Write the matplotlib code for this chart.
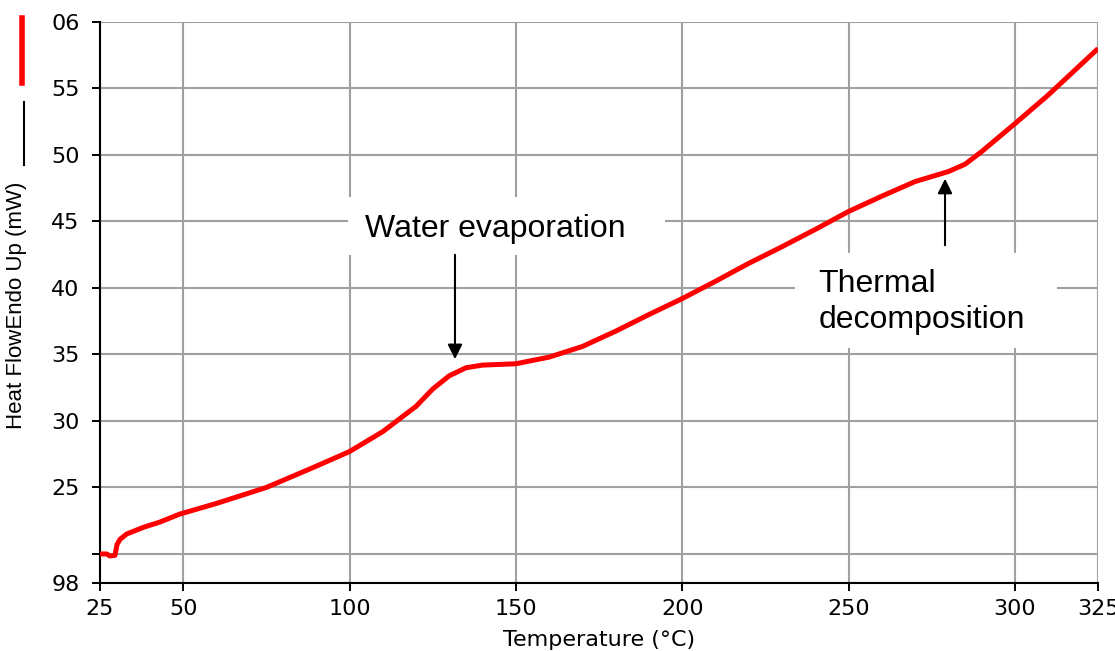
import numpy as np
import matplotlib.pyplot as plt
from matplotlib.patches import Rectangle
from matplotlib.lines import Line2D

# DSC trace
temp = [25, 27, 28, 29.5, 30.1, 31, 33, 38, 43, 49, 60, 75, 90, 100, 110,
        120, 125, 130, 135, 140, 150, 160, 170, 180, 190, 200, 210, 220,
        230, 240, 250, 260, 270, 280, 285, 290, 300, 310, 325]
heat = [20.0, 20.0, 19.85, 19.9, 20.7, 21.1, 21.5, 22.0, 22.4, 23.0, 23.8,
        25.0, 26.6, 27.7, 29.2, 31.1, 32.4, 33.4, 34.0, 34.2, 34.3, 34.8,
        35.6, 36.75, 38.0, 39.2, 40.5, 41.85, 43.1, 44.4, 45.75, 46.9, 48.0,
        48.75, 49.3, 50.25, 52.35, 54.5, 58.0]

xticks = [25, 50, 100, 150, 200, 250, 300, 325]
yticks = [17.82, 20, 25, 30, 35, 40, 45, 50, 55, 60]
ylabels = ["98", "", "25", "30", "35", "40", "45", "50", "55", "06"]

fig = plt.figure(figsize=(11.15, 6.51), dpi=100)
ax = fig.add_axes([0.0897, 0.1045, 0.8951, 0.8618])

ax.plot(temp, heat, color="#ff0000", lw=3.6, zorder=4, solid_capstyle="butt")

ax.set_xlim(25, 325)
ax.set_ylim(17.82, 60)
ax.set_xticks(xticks)
ax.set_yticks(yticks)
ax.set_yticklabels(ylabels)
ax.grid(True, color="#a0a0a0", lw=1.5)
ax.set_axisbelow(True)
for s in ["top", "right"]:
    ax.spines[s].set_visible(False)
for s in ["left", "bottom"]:
    ax.spines[s].set_linewidth(1.5)
ax.tick_params(axis="both", direction="out", length=5.8, width=1.4,
               labelsize=16, colors="black")
ax.tick_params(axis="y", pad=9)
ax.tick_params(axis="x", pad=6)

ax.set_xlabel("Temperature (°C)", fontsize=16, labelpad=8)
ax.set_ylabel("Heat FlowEndo Up (mW)", fontsize=16,
              family="Liberation Sans")
ax.yaxis.set_label_coords(-0.073, 0.4955)

# legend-like strokes beside the y label
fig.add_artist(Line2D([0.0197, 0.0197], [0.8725, 0.9724],
                      color="#ff0000", lw=4, transform=fig.transFigure))
fig.add_artist(Line2D([0.0215, 0.0215], [0.7465, 0.8433],
                      color="black", lw=1.5, transform=fig.transFigure))

# annotation boxes
ax.add_patch(Rectangle((99.5, 42.48), 95.3, 4.36, facecolor="white",
                       edgecolor="none", zorder=2, clip_on=False))
ax.text(104.6, 43.83, "Water evaporation", fontsize=23,
        family="Liberation Sans", va="baseline", zorder=3)
ax.annotate("", xy=(131.7, 34.44), xytext=(131.7, 42.7),
            arrowprops=dict(arrowstyle="-|>", color="black", lw=1.5,
                            mutation_scale=22), zorder=5)

ax.add_patch(Rectangle((233.9, 35.49), 78.7, 7.14, facecolor="white",
                       edgecolor="none", zorder=2))
ax.text(240.9, 39.70, "Thermal", fontsize=23,
        family="Liberation Sans", va="baseline", zorder=3)
ax.text(240.9, 36.99, "decomposition", fontsize=23,
        family="Liberation Sans", va="baseline", zorder=3)
ax.annotate("", xy=(279.0, 48.42), xytext=(279.0, 43.0),
            arrowprops=dict(arrowstyle="-|>", color="black", lw=1.5,
                            mutation_scale=22), zorder=5)

fig.savefig("out.png", dpi=100)
